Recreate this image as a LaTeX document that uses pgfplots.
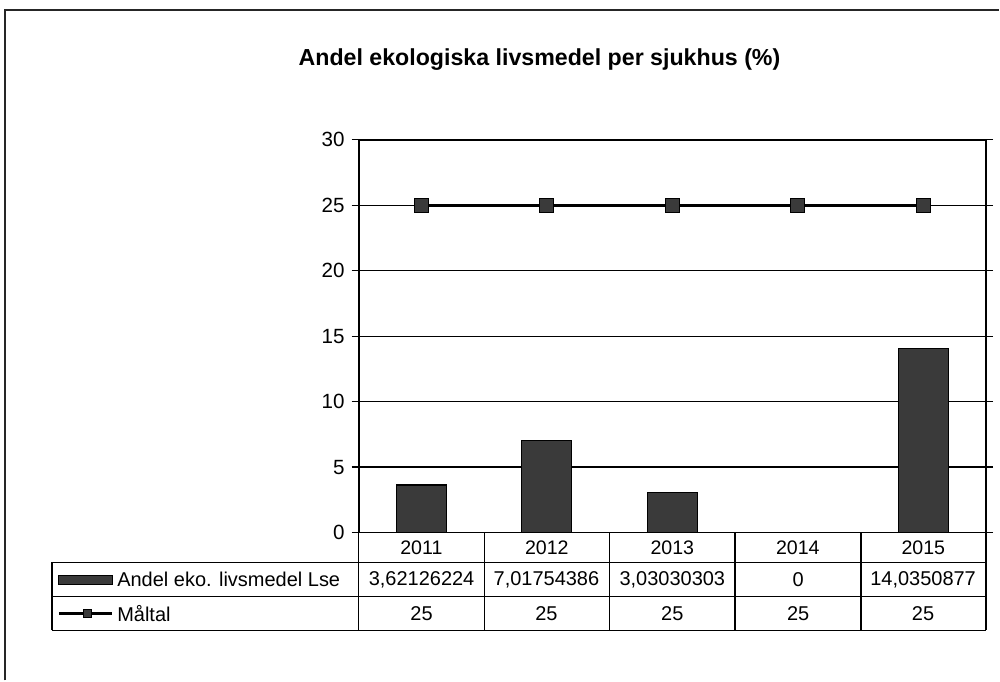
\documentclass[border=0pt]{standalone}
\usepackage{fontspec}
\setmainfont{Liberation Sans}
\usepackage{pgfplots}
\pgfplotsset{compat=1.18}
\definecolor{barfill}{HTML}{3A3A3A}
\begin{document}
\begin{tikzpicture}
\begin{scope}[x=0.5pt,y=-0.5pt]
\path (0,0) rectangle (1000,681);
% outer frame
\draw[black!85, line width=1pt] (5,681) -- (5,10) -- (1000,10);
% title
\node[font=\fontsize{11.6}{13}\selectfont\bfseries] at (540,60) {Andel ekologiska livsmedel per sjukhus (\%)};
\end{scope}
\begin{axis}[
  at={(179.5pt,-266.5pt)}, anchor=south west,
  scale only axis, width=314pt, height=196.5pt,
  xmin=-0.5, xmax=4.5, ymin=0, ymax=30,
  ytick={0,5,...,30},
  xtick={0,1,2,3,4},
  xticklabels={2011,2012,2013,2014,2015},
  x tick style={draw=none},
  xticklabel style={anchor=center, yshift=-7.5pt, font=\fontsize{9.8}{11}\selectfont},
  y tick style={black, line width=0.6pt},
  ytick align=outside, major tick length=3.5pt,
  yticklabel style={font=\fontsize{10.3}{12}\selectfont},
  /pgf/number format/assume math mode=true,
  ymajorgrids, grid style={black, line width=0.6pt},
  axis line style={black, line width=0.9pt},
  clip=false,
]
\addplot[ybar, bar width=25pt, fill=barfill, draw=black, line width=0.6pt]
  coordinates {(0,3.62126224) (1,7.01754386) (2,3.03030303) (3,0) (4,14.0350877)};
\addplot[black, line width=1.2pt, mark=square*, mark size=3.5pt,
  mark options={fill=barfill, draw=black, line width=0.6pt}]
  coordinates {(0,25) (1,25) (2,25) (3,25) (4,25)};
\end{axis}
\begin{scope}[x=0.5pt,y=-0.5pt]
% data table grid
\draw[black, line width=0.8pt] (52,563) -- (987,563);
\draw[black, line width=0.8pt] (52,597) -- (987,597);
\draw[black, line width=0.8pt] (52,631) -- (987,631);
\draw[black, line width=0.8pt] (52,563) -- (52,631);
\foreach \xx in {359,485,610,736,862,987} {
  \draw[black, line width=0.8pt] (\xx,533) -- (\xx,631);
}
% legend keys
\draw[black, fill=barfill, line width=0.5pt] (59,576) rectangle (113,585);
\draw[black, line width=1.2pt] (59,614) -- (112,614);
\draw[black, fill=barfill, line width=0.5pt] (84,610) rectangle (92,618);
\begin{scope}[font=\fontsize{10}{12}\selectfont]
\node[anchor=west, inner sep=0pt] at (117,580) {Andel eko. livsmedel Lse};
\node[anchor=west, inner sep=0pt] at (117,614) {Måltal};
\node at (422,580) {3,62126224};
\node at (547,580) {7,01754386};
\node at (673,580) {3,03030303};
\node at (799,580) {0};
\node at (924,580) {14,0350877};
\node at (422,614) {25};
\node at (547,614) {25};
\node at (673,614) {25};
\node at (799,614) {25};
\node at (924,614) {25};
\end{scope}
\end{scope}
\end{tikzpicture}
\end{document}
